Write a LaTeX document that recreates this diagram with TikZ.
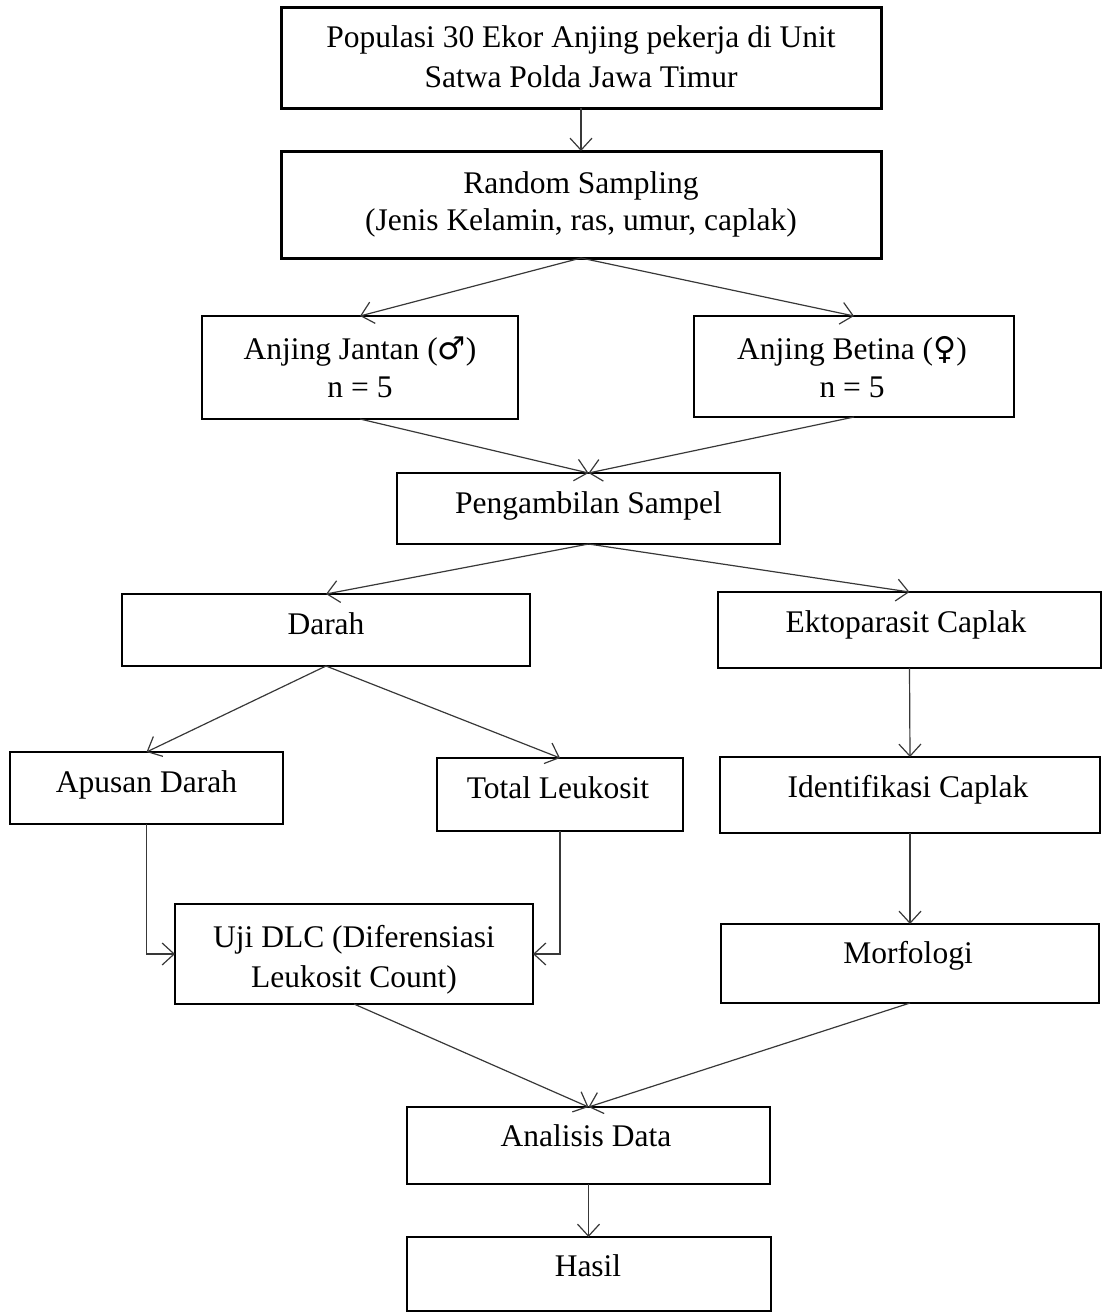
\documentclass[tikz,border=0pt]{standalone}
\usepackage{fontspec}
\setmainfont{Liberation Serif}
\newfontfamily\gendersym{DejaVu Sans}[Scale=1.0]
\usetikzlibrary{arrows.meta}
\begin{document}
\begin{tikzpicture}[x=0.5pt,y=-0.5pt,
  flowbox/.style={draw=black, line width=1pt, inner sep=0pt, outer sep=0pt, rectangle},
  heavybox/.style={flowbox, line width=1.5pt},
  txt/.style={anchor=base, inner sep=0pt, font=\fontsize{15.75pt}{19pt}\selectfont},
  conn/.style={draw=black!78, line width=0.6pt, -{Straight Barb[length=6pt,width=11pt,line width=0.6pt]}}
]
\useasboundingbox (0,0) rectangle (1102,1312);

% boxes
\node[heavybox, minimum width=300pt, minimum height=50.5pt] (b1) at (581,57.5) {};
\node[heavybox, minimum width=300pt, minimum height=53.5pt] (b2) at (581,204.5) {};
\node[flowbox, minimum width=158pt, minimum height=51.5pt] (jan) at (360,367.5) {};
\node[flowbox, minimum width=160pt, minimum height=50.5pt] (bet) at (854,366.5) {};
\node[flowbox, minimum width=191.5pt, minimum height=35.5pt] (peng) at (588.5,508.5) {};
\node[flowbox, line width=1.2pt, minimum width=204pt, minimum height=36pt] (darah) at (326,630) {};
\node[flowbox, minimum width=191.5pt, minimum height=38pt] (ekto) at (909.5,630) {};
\node[flowbox, minimum width=136.5pt, minimum height=36pt] (apus) at (146.5,788) {};
\node[flowbox, minimum width=123pt, minimum height=36.5pt] (total) at (560,794.5) {};
\node[flowbox, minimum width=190pt, minimum height=38pt] (ident) at (910,795) {};
\node[flowbox, minimum width=179pt, minimum height=50pt] (uji) at (354,954) {};
\node[flowbox, minimum width=189pt, minimum height=39.5pt] (morf) at (910,963.5) {};
\node[flowbox, minimum width=181.5pt, minimum height=38.5pt] (anal) at (588.5,1145.5) {};
\node[flowbox, minimum width=182pt, minimum height=37pt] (hasil) at (588.5,1274) {};

% texts
\node[txt] (t1a) at (581,47) {Populasi 30 Ekor Anjing pekerja di Unit};
\node[txt] (t1b) at (581,87) {Satwa Polda Jawa Timur};
\node[txt] (t2a) at (581,193) {Random Sampling};
\node[txt] (t2b) at (581,230) {(Jenis Kelamin, ras, umur, caplak)};
\node[txt] (tja) at (360,359) {Anjing Jantan ({\gendersym ♂})};
\node[txt] (tjb) at (360,397) {n = 5};
\node[txt] (tba) at (852,359) {Anjing Betina ({\gendersym ♀})};
\node[txt] (tbb) at (852,397) {n = 5};
\node[txt] (tp) at (588.5,513) {Pengambilan Sampel};
\node[txt] (td) at (326,634) {Darah};
\node[txt] (te) at (906,632) {Ektoparasit Caplak};
\node[txt] (ta) at (146.5,792) {Apusan Darah};
\node[txt] (tt) at (558,798) {Total Leukosit};
\node[txt] (ti) at (908,797) {Identifikasi Caplak};
\node[txt] (tua) at (354,947) {Uji DLC (Diferensiasi};
\node[txt] (tub) at (354,987) {Leukosit Count)};
\node[txt] (tm) at (908,963) {Morfologi};
\node[txt] (tan) at (586,1146) {Analisis Data};
\node[txt] (th) at (588,1276) {Hasil};

% connectors
\draw[conn] (b1.south) -- (b2.north);
\draw[conn] (b2.south) -- (jan.north);
\draw[conn] (b2.south) -- (bet.north);
\draw[conn] (jan.south) -- (peng.north);
\draw[conn] (bet.south) -- (peng.north);
\draw[conn] (peng.south) -- (darah.north);
\draw[conn] (peng.south) -- (ekto.north);
\draw[conn] (darah.south) -- (apus.north);
\draw[conn] (darah.south) -- (total.north);
\draw[conn] (apus.south) |- (uji.west);
\draw[conn] (total.south) |- (uji.east);
\draw[conn] (ekto.south) -- (ident.north);
\draw[conn] (ident.south) -- (morf.north);
\draw[conn] (uji.south) -- (anal.north);
\draw[conn] (morf.south) -- (anal.north);
\draw[conn] (anal.south) -- (hasil.north);
\end{tikzpicture}
\end{document}
